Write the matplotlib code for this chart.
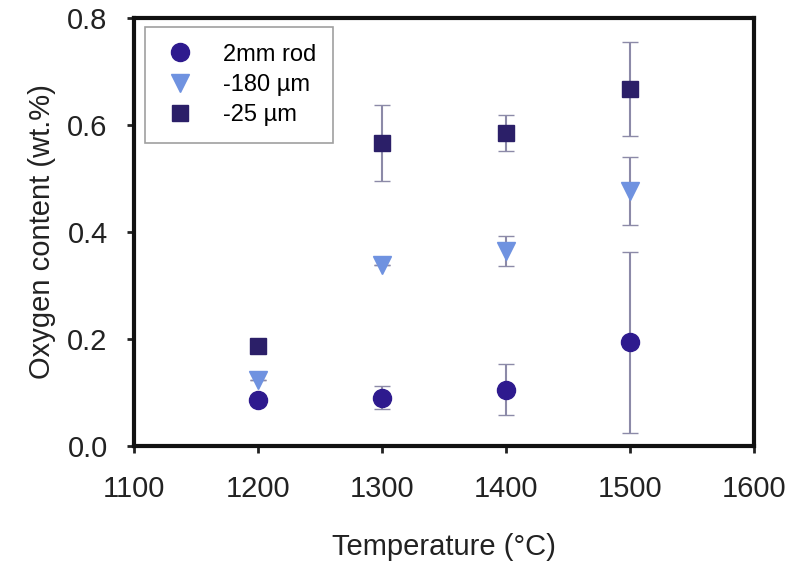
import matplotlib
matplotlib.use("Agg")
import matplotlib.pyplot as plt

plt.rcParams['font.family'] = ['Liberation Sans', 'DejaVu Sans']

temps = [1200, 1300, 1400, 1500]

rod_y = [0.086, 0.090, 0.105, 0.193]
rod_err = [0.0, 0.022, 0.047, 0.170]

p180_y = [0.123, 0.338, 0.365, 0.476]
p180_err = [0.0, 0.0, 0.028, 0.064]

p25_y = [0.187, 0.566, 0.585, 0.667]
p25_err = [0.0, 0.071, 0.034, 0.088]

series = [
    ("2mm rod", rod_y, rod_err, "o", 13, "#2e1a8e"),
    ("-180 µm", p180_y, p180_err, "v", 13, "#6f92e0"),
    ("-25 µm", p25_y, p25_err, "s", 12, "#2b1f68"),
]

fig = plt.figure(figsize=(7.93, 5.62), dpi=100)
ax = fig.add_axes([0.169, 0.207, 0.782, 0.761])

err_color = "#8c8aa8"
handles = []
for label, y, err, mk, ms, col in series:
    ax.errorbar(temps, y, yerr=err, fmt="none", ecolor=err_color,
                elinewidth=1.5, capsize=6)
    h, = ax.plot(temps, y, mk, ms=ms, color=col, label=label)
    handles.append(h)

ax.set_xlim(1100, 1600)
ax.set_ylim(0, 0.8)
ax.set_xticks([1100, 1200, 1300, 1400, 1500, 1600])
ax.set_yticks([0.0, 0.2, 0.4, 0.6, 0.8])
ax.set_yticklabels(["0.0", "0.2", "0.4", "0.6", "0.8"])
ax.tick_params(labelsize=21, width=2, length=5, direction="out", colors="#222222")
ax.tick_params(axis="x", pad=16)
ax.tick_params(axis="y", pad=14)
for s in ax.spines.values():
    s.set_linewidth(3)
    s.set_color("#111111")

ax.set_xlabel("Temperature (°C)", fontsize=21, color="#222222", labelpad=22)
ax.set_ylabel("Oxygen content (wt.%)", fontsize=21, color="#222222", labelpad=8)

leg = ax.legend(handles=handles, loc="upper left", fontsize=17, frameon=True,
                fancybox=False, edgecolor="#888888", handletextpad=1.0,
                handlelength=1.6, borderpad=0.7, labelspacing=0.35,
                borderaxespad=0.3, bbox_to_anchor=(0.006, 0.995))
leg.get_frame().set_linewidth(1.2)

fig.savefig("out.png", dpi=100)
